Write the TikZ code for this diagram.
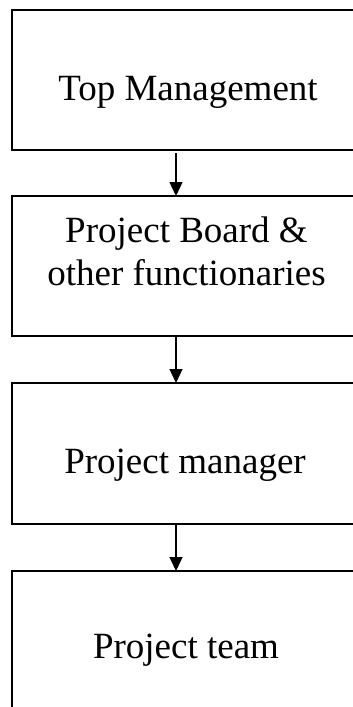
\documentclass[tikz,border=0pt]{standalone}
\usepackage{fontspec}
\setmainfont{Liberation Serif}
\usetikzlibrary{arrows.meta}
\tikzset{
  orgbox/.style={draw=black, line width=1.6pt, minimum width=349pt, minimum height=140pt, inner sep=0pt, outer sep=0pt},
  lbl/.style={anchor=base, inner sep=0pt, font=\fontsize{37}{44}\selectfont},
  arr/.style={line width=1.4pt, -{Triangle[width=13pt,length=14pt]}}
}
\begin{document}
\begin{tikzpicture}[x=1pt, y={(0pt,-1pt)}]
\useasboundingbox (0,0) rectangle (353,707);
\clip (0,0) rectangle (353,707);
\fill[white] (0,0) rectangle (353,707);
\node[orgbox] (b1) at (186.5,80) {};
\node[orgbox] (b2) at (186.5,266) {};
\node[orgbox, minimum height=141pt] (b3) at (186.5,453.5) {};
\node[orgbox] (b4) at (186.5,641) {};
\node[lbl] (t1) at (188,100) {Top Management};
\node[lbl] (t2a) at (186.5,242) {Project Board \&};
\node[lbl] (t2b) at (186.5,285) {other functionaries};
\node[lbl] (t3) at (185,473) {Project manager};
\node[lbl] (t4) at (186,658) {Project team};
\draw[arr, shorten <=3pt] ([xshift=-10.5pt]b1.south) -- ([xshift=-10.5pt]b2.north);
\draw[arr] ([xshift=-10.5pt]b2.south) -- ([xshift=-10.5pt]b3.north);
\draw[arr] ([xshift=-10.5pt]b3.south) -- ([xshift=-10.5pt]b4.north);
\end{tikzpicture}
\end{document}
